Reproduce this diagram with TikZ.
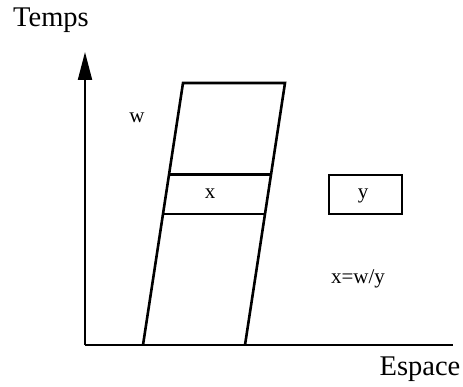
\documentclass[tikz,border=0pt]{standalone}
\usepackage{fontspec}
\setmainfont{Liberation Serif}
\usetikzlibrary{arrows.meta,calc}

\begin{document}
\begin{tikzpicture}[x=1pt,y=1pt,
  axe/.style={line width=2pt},
  bord/.style={line width=2.6pt},
  grand/.style={font=\fontsize{28.5}{30}\selectfont,anchor=base,inner sep=0pt},
  petit/.style={font=\fontsize{21}{24}\selectfont,anchor=base,inner sep=0pt}]
\useasboundingbox (0,0) rectangle (463,386);
% axes
\coordinate (O) at (85,41);
\coordinate (haut) at (85,334);
\coordinate (droite) at (453,41);
\draw[axe,-{Triangle[length=28pt,width=14pt]}] (O) -- (haut);
\draw[axe] (O) -- (droite);
\node[grand] (temps) at (51,359) {Temps};
\node[grand] (espace) at (420,11) {Espace};
% bande
\coordinate (bg) at (143,41);
\coordinate (bd) at (245,41);
\coordinate (hg) at (183,303);
\coordinate (hd) at (285,303);
\draw[bord] (bg) -- (hg) -- (hd) -- (bd);
\foreach \t in {0.5,0.65} {\draw[bord] ($(bg)!\t!(hg)$) -- ($(bd)!\t!(hd)$);}
\node[petit] (w) at (137,263) {w};
\node[petit] (x) at (210,187) {x};
% boite y
\draw[line width=1.8pt] (329,172) rectangle (402,211);
\node[petit] (y) at (363,187) {y};
\node[petit] (rel) at (358,103) {x=w/y};
\end{tikzpicture}
\end{document}
